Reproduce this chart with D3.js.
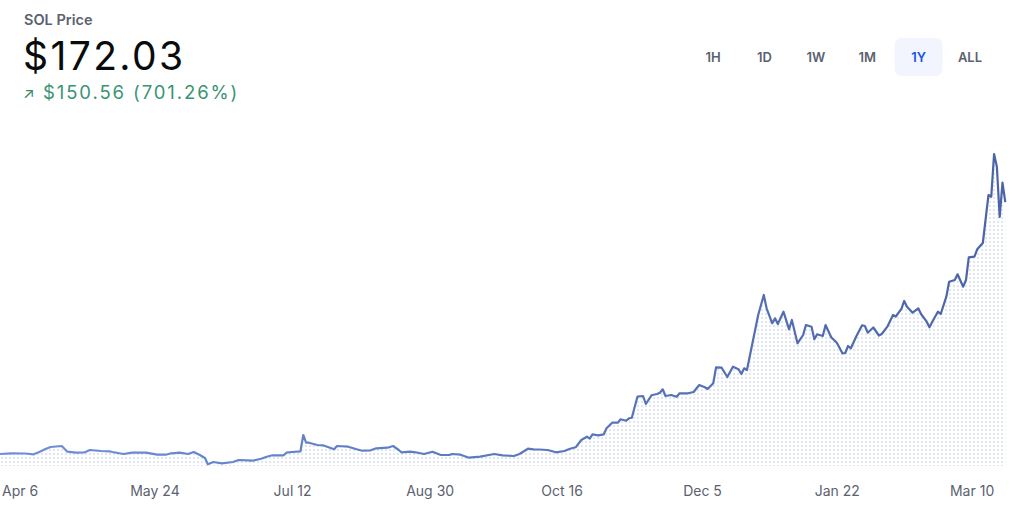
<!DOCTYPE html>
<html><head><meta charset="utf-8">
<script src="https://cdn.jsdelivr.net/npm/d3@7"></script>
<style>
body{margin:0;background:#fff;}
svg{display:block;font-family:Inter,"Noto Sans",sans-serif;}
</style>
</head><body><svg id="c" width="1024" height="509"></svg>
<script>
const dates = ["2023-03-30","2023-04-03","2023-04-08","2023-04-11","2023-04-13","2023-04-15","2023-04-17","2023-04-21","2023-04-23","2023-04-26","2023-04-29",
"2023-05-01","2023-05-05","2023-05-08","2023-05-09","2023-05-13","2023-05-16","2023-05-21","2023-05-25","2023-05-28","2023-05-30",
"2023-06-02","2023-06-05","2023-06-07","2023-06-09","2023-06-11","2023-06-12","2023-06-14","2023-06-17","2023-06-21","2023-06-23","2023-06-28",
"2023-07-01","2023-07-03","2023-07-05","2023-07-09","2023-07-10","2023-07-12","2023-07-15","2023-07-16","2023-07-17","2023-07-18","2023-07-21","2023-07-23","2023-07-25","2023-07-27","2023-07-28",
"2023-08-01","2023-08-04","2023-08-06","2023-08-09","2023-08-11","2023-08-15","2023-08-17","2023-08-19","2023-08-20","2023-08-23","2023-08-25","2023-08-28","2023-08-31",
"2023-09-03","2023-09-06","2023-09-07","2023-09-10","2023-09-13","2023-09-17","2023-09-22","2023-09-25","2023-09-29",
"2023-10-01","2023-10-04","2023-10-06","2023-10-08","2023-10-11","2023-10-14","2023-10-17","2023-10-19","2023-10-21","2023-10-23","2023-10-25","2023-10-26","2023-10-27","2023-10-29","2023-10-31",
"2023-11-01","2023-11-03","2023-11-05","2023-11-06","2023-11-08","2023-11-09","2023-11-10","2023-11-12","2023-11-14","2023-11-15","2023-11-17","2023-11-19","2023-11-20","2023-11-21","2023-11-22","2023-11-24","2023-11-26","2023-11-27","2023-11-30",
"2023-12-02","2023-12-04","2023-12-06","2023-12-07","2023-12-09","2023-12-10","2023-12-12","2023-12-14","2023-12-16","2023-12-18","2023-12-19","2023-12-20","2023-12-21","2023-12-25","2023-12-27","2023-12-28","2023-12-30","2023-12-31",
"2024-01-01","2024-01-03","2024-01-05","2024-01-06","2024-01-08","2024-01-10","2024-01-11","2024-01-13","2024-01-14","2024-01-15","2024-01-17","2024-01-18","2024-01-20","2024-01-22","2024-01-24","2024-01-25","2024-01-26","2024-01-27","2024-01-29","2024-01-31",
"2024-02-01","2024-02-02","2024-02-04","2024-02-06","2024-02-07","2024-02-09","2024-02-11","2024-02-12","2024-02-14","2024-02-15","2024-02-16","2024-02-18","2024-02-20","2024-02-21","2024-02-23","2024-02-24","2024-02-25","2024-02-27","2024-02-28",
"2024-03-01","2024-03-02","2024-03-04","2024-03-05","2024-03-07","2024-03-08","2024-03-09","2024-03-11","2024-03-12","2024-03-14","2024-03-16","2024-03-17","2024-03-18","2024-03-19","2024-03-20","2024-03-21","2024-03-22"];
const prices = [22.07,22.48,22.36,21.89,23.26,24.86,26.23,26.83,23.43,22.84,22.96,
24.45,23.85,23.67,23.26,22.07,22.84,22.84,21.65,21.65,22.48,
22.84,22.07,23.26,21.65,19.68,15.93,17.30,16.53,17.30,18.49,18.08,
19.27,20.46,21.29,21.29,22.84,23.26,23.67,33.38,28.79,28.79,27.42,27.24,26.05,24.86,26.83,
26.41,24.86,24.03,24.27,25.46,25.82,26.83,24.45,23.08,23.43,23.08,22.07,23.43,
21.47,21.47,22.07,21.65,19.86,20.46,22.07,21.29,20.88,
22.07,25.22,24.86,24.74,24.45,23.08,23.85,25.22,26.05,30.40,32.36,31.17,33.79,33.20,33.79,
37.36,40.70,40.70,42.72,41.89,43.32,43.67,56.17,56.59,51.83,57.01,57.78,58.55,60.58,56.59,57.18,56.17,58.20,58.20,
58.97,63.14,61.77,60.76,64.15,73.67,73.43,67.90,74.03,72.48,69.68,73.08,72.07,104.80,116.71,108.79,99.86,102.84,
99.45,106.77,96.29,101.83,87.96,92.90,98.85,97.84,90.34,93.32,92.30,98.85,91.53,88.32,82.01,82.18,86.35,84.98,92.30,98.67,
98.26,94.27,97.36,92.60,93.49,97.84,104.80,103.91,108.49,113.14,109.74,106.17,108.79,105.40,100.82,97.48,100.82,106.77,105.40,
115.70,124.63,125.64,129.03,121.65,125.64,139.15,139.51,143.91,147.66,176.23,175.22,200.64,193.08,163.14,183.55,172.03];
const tickDates = ["2023-04-06","2023-05-24","2023-07-12","2023-08-30","2023-10-16","2023-12-05","2024-01-22","2024-03-10"];
const ranges = ["1H","1D","1W","1M","1Y","ALL"];
const activeRange = "1Y";
const title = "SOL Price";
const currentPrice = "$172.03";
const changeText = "$150.56 (701.26%)";

const parse = d3.utcParse("%Y-%m-%d");
const data = dates.map((d,i)=>({date:parse(d), price:prices[i]}));
const svg = d3.select("#c");

const x = d3.scaleUtc().domain([parse("2023-03-30"), parse("2024-03-22")]).range([0, 1005.3]);
const y = d3.scaleLinear().domain([0, 200]).range([491.07, 155.07]);
const baseY = 466;

const defs = svg.append("defs");
const pat = defs.append("pattern").attr("id","dots").attr("width",4).attr("height",4).attr("patternUnits","userSpaceOnUse");
pat.append("rect").attr("x",1).attr("y",1).attr("width",2).attr("height",2).attr("fill","#e1e6f4");
const grad = defs.append("linearGradient").attr("id","lg").attr("gradientUnits","userSpaceOnUse")
  .attr("x1",0).attr("x2",1006).attr("y1",0).attr("y2",0);
grad.append("stop").attr("offset","0%").attr("stop-color","#6f8fd8");
grad.append("stop").attr("offset","55%").attr("stop-color","#5a77bd");
grad.append("stop").attr("offset","100%").attr("stop-color","#4b64a4");

svg.append("path").datum(data)
  .attr("d", d3.area().x(d=>x(d.date)).y0(baseY).y1(d=>y(d.price)))
  .attr("fill","url(#dots)");
svg.append("path").datum(data)
  .attr("d", d3.line().x(d=>x(d.date)).y(d=>y(d.price)))
  .attr("fill","none").attr("stroke","url(#lg)").attr("stroke-width",2.2).attr("stroke-linejoin","round");

const axis = d3.axisBottom(x).tickValues(tickDates.map(parse)).tickFormat(d3.utcFormat("%b %-d")).tickSize(0).tickPadding(0);
const ag = svg.append("g").attr("transform","translate(0,486)").call(axis);
ag.select(".domain").remove();
ag.selectAll("text").attr("font-family","Inter,'Noto Sans',sans-serif").attr("font-size",14).attr("fill","#5b616e");

// header
svg.append("text").attr("x",24).attr("y",25).text(title)
  .attr("font-size",14.5).attr("font-weight",600).attr("fill","#5b616e");
svg.append("text").attr("x",23).attr("y",70).text(currentPrice)
  .attr("font-size",39).attr("font-weight",400).attr("fill","#0a0b0d").attr("letter-spacing",2.4);
svg.append("text").attr("x",23).attr("y",99).text("\u2197")
  .attr("font-size",15).attr("fill","#2f8a68");
svg.append("text").attr("x",43).attr("y",99).text(changeText)
  .attr("font-size",18.5).attr("fill","#3a9473").attr("letter-spacing",1.9);

// range buttons
const bx = d3.scalePoint().domain(ranges).range([713, 970]);
const bg = svg.append("g");
bg.selectAll("rect").data(ranges.filter(r=>r===activeRange)).join("rect")
  .attr("x",r=>bx(r)-24).attr("y",38).attr("width",48).attr("height",38).attr("rx",7).attr("fill","#f2f5fd");
bg.selectAll("text").data(ranges).join("text")
  .attr("x",r=>bx(r)).attr("y",62).attr("text-anchor","middle").text(r=>r)
  .attr("font-size",13).attr("font-weight",600)
  .attr("fill",r=>r===activeRange?"#1652f0":"#5b616e");
</script>
</body></html>
